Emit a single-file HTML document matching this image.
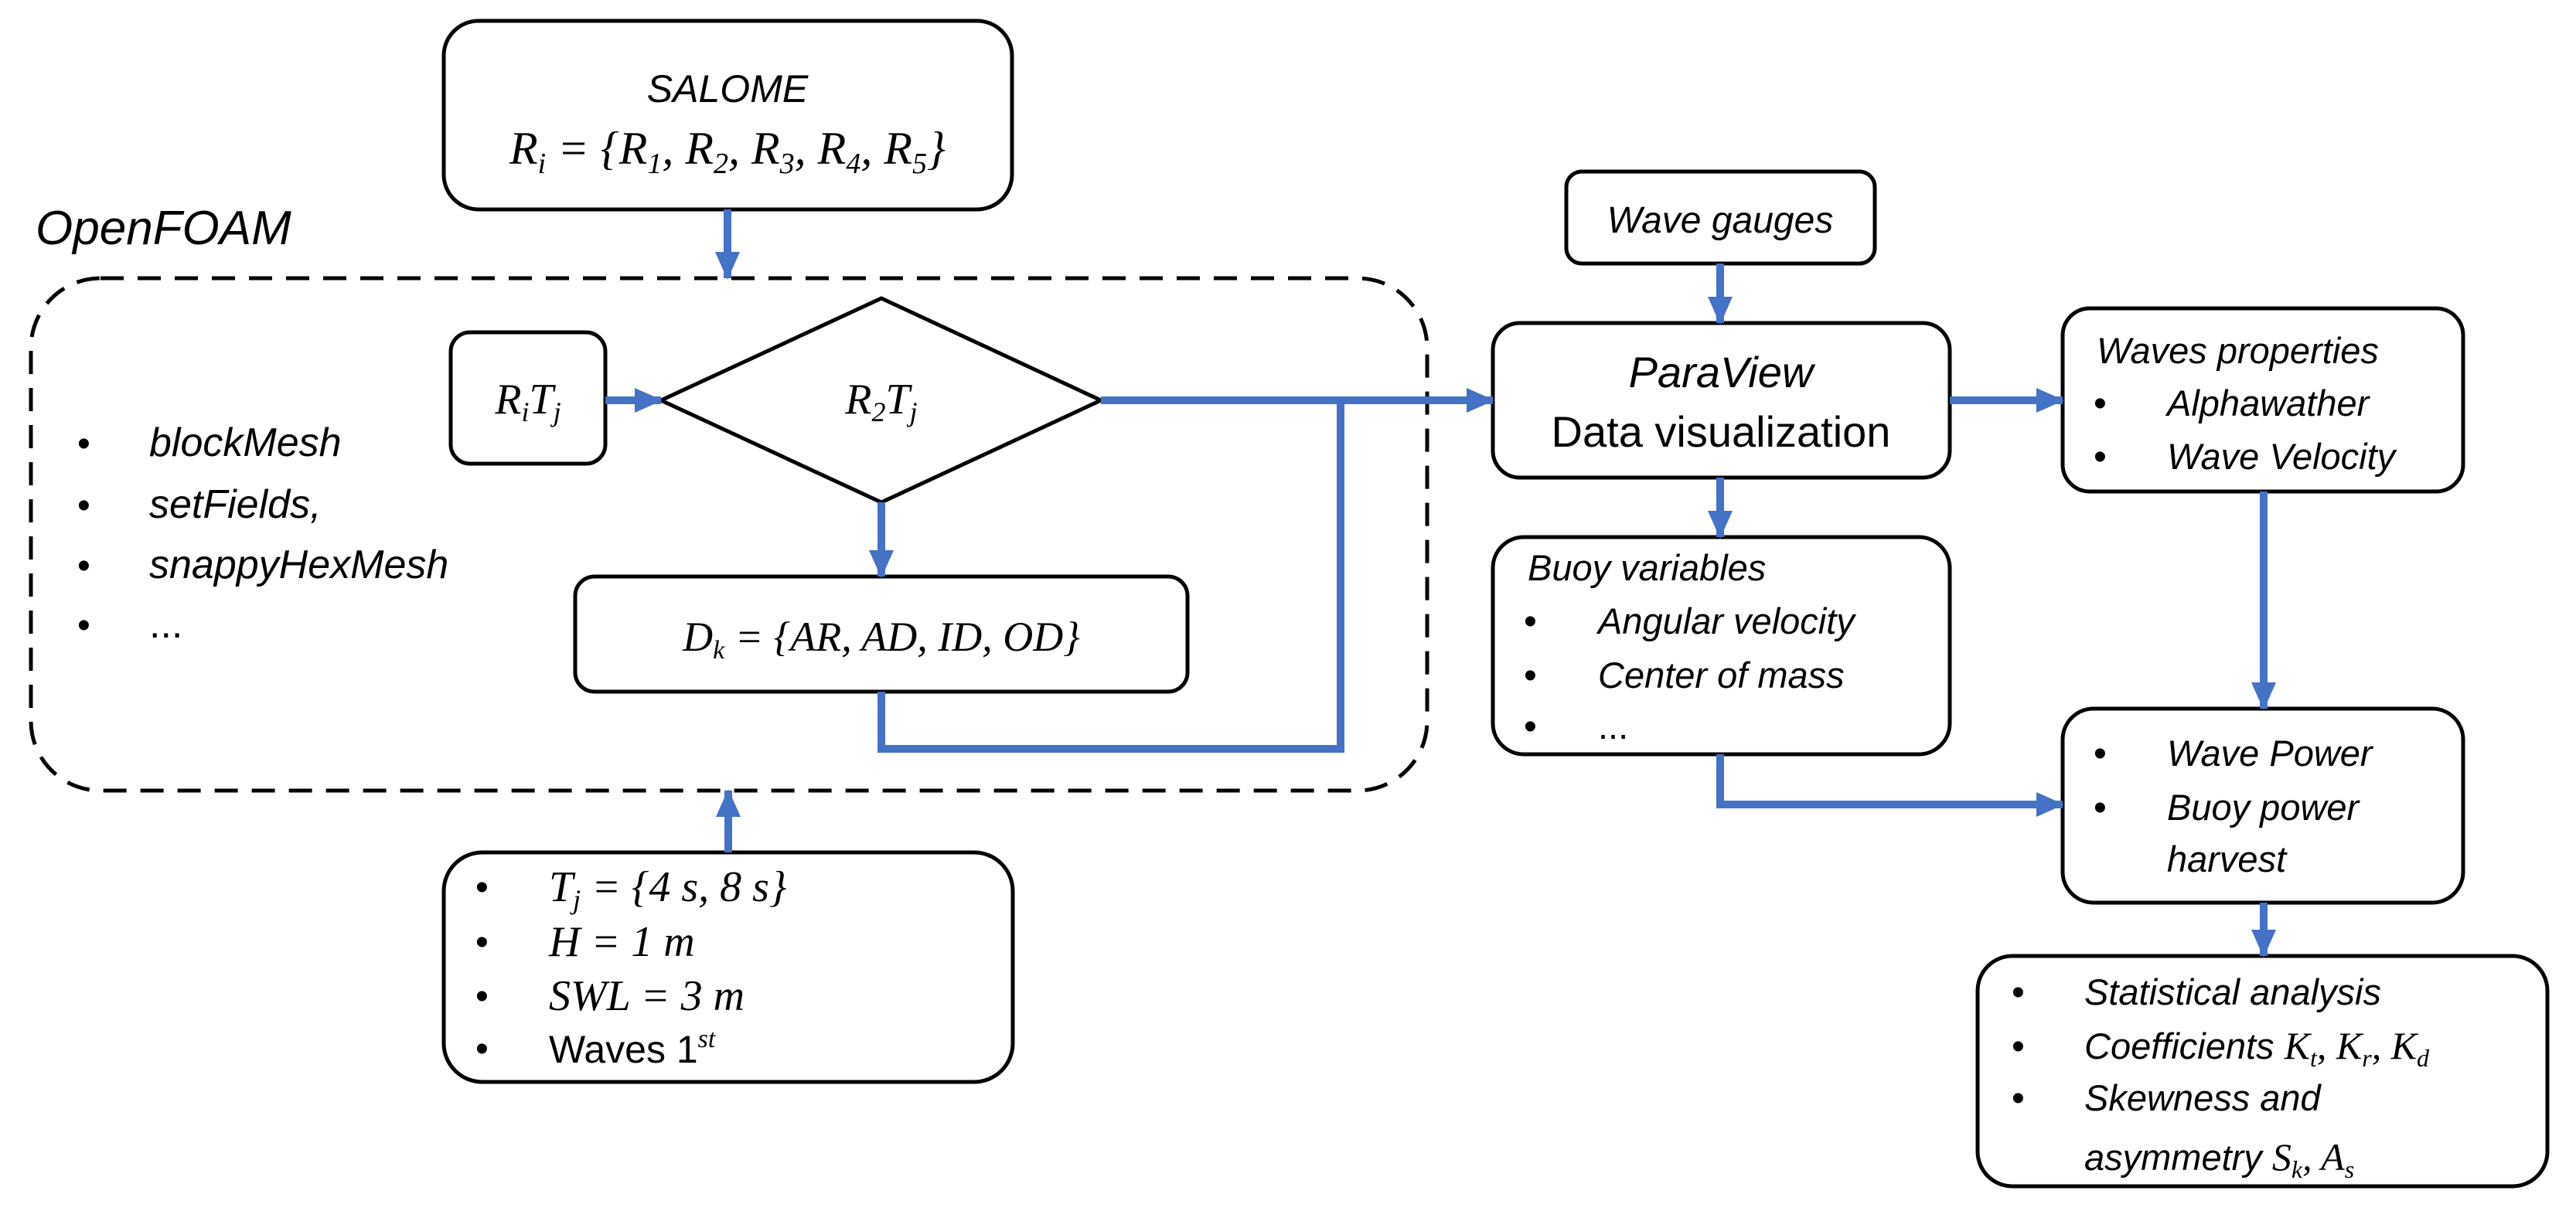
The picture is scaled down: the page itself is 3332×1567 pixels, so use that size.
<!DOCTYPE html>
<html><head><meta charset="utf-8"><style>
html,body{margin:0;padding:0;background:#fff}
svg{display:block}
text{font-family:"Liberation Sans",sans-serif;fill:#000}
.i{font-style:italic}
.m{font-family:"Liberation Serif",serif;font-style:italic}
</style></head><body>
<svg width="3332" height="1567" viewBox="0 0 3332 1567" xmlns="http://www.w3.org/2000/svg">
<defs>
<marker id="a" markerWidth="36" markerHeight="36" refX="34" refY="18" orient="auto" markerUnits="userSpaceOnUse">
<path d="M0,2 L36,18 L0,34 z" fill="#4472C4"/>
</marker>
</defs>
<g fill="none" stroke="#000" stroke-width="5">
<rect x="574" y="27" width="735" height="244" rx="45"/>
<rect x="40" y="360" width="1806" height="663" rx="90" stroke-dasharray="30,18"/>
<rect x="583" y="430" width="200" height="170" rx="25"/>
<polygon points="855,518 1140,386 1424,518 1140,650"/>
<rect x="744" y="746" width="792" height="149" rx="25"/>
<rect x="574" y="1103" width="736" height="297" rx="50"/>
<rect x="2026" y="222" width="399" height="119" rx="20"/>
<rect x="1931" y="418" width="591" height="200" rx="35"/>
<rect x="2668" y="399" width="518" height="237" rx="35"/>
<rect x="1931" y="695" width="591" height="281" rx="40"/>
<rect x="2668" y="917" width="518" height="251" rx="40"/>
<rect x="2558" y="1237" width="737" height="298" rx="45"/>
</g>
<g fill="none" stroke="#4472C4" stroke-width="10">
<line x1="941" y1="271" x2="941" y2="360" marker-end="url(#a)"/>
<line x1="783" y1="518" x2="855" y2="518" marker-end="url(#a)"/>
<line x1="1140" y1="650" x2="1140" y2="746" marker-end="url(#a)"/>
<polyline points="1140,895 1140,969 1734,969 1734,518"/>
<line x1="1424" y1="518" x2="1931" y2="518" marker-end="url(#a)"/>
<line x1="942" y1="1103" x2="942" y2="1023" marker-end="url(#a)"/>
<line x1="2225" y1="341" x2="2225" y2="418" marker-end="url(#a)"/>
<line x1="2522" y1="518" x2="2668" y2="518" marker-end="url(#a)"/>
<line x1="2225" y1="618" x2="2225" y2="695" marker-end="url(#a)"/>
<line x1="2928" y1="636" x2="2928" y2="917" marker-end="url(#a)"/>
<polyline points="2225,976 2225,1041 2668,1041" marker-end="url(#a)"/>
<line x1="2928" y1="1168" x2="2928" y2="1237" marker-end="url(#a)"/>
</g>
<g font-size="48">
<text x="941" y="132" text-anchor="middle" class="i" font-size="50">SALOME</text>
<text x="941" y="212" text-anchor="middle" class="m" font-size="60">R<tspan font-size="38" dy="12">i</tspan><tspan dy="-12"> = {R</tspan><tspan font-size="38" dy="12">1</tspan><tspan dy="-12">, R</tspan><tspan font-size="38" dy="12">2</tspan><tspan dy="-12">, R</tspan><tspan font-size="38" dy="12">3</tspan><tspan dy="-12">, R</tspan><tspan font-size="38" dy="12">4</tspan><tspan dy="-12">, R</tspan><tspan font-size="38" dy="12">5</tspan><tspan dy="-12">}</tspan></text>
<text x="46" y="316" class="i" font-size="62">OpenFOAM</text>
<text x="683" y="535" text-anchor="middle" class="m" font-size="56">R<tspan font-size="36" dy="10">i</tspan><tspan dy="-10">T</tspan><tspan font-size="36" dy="10">j</tspan></text>
<text x="1140" y="535" text-anchor="middle" class="m" font-size="56">R<tspan font-size="36" dy="10">2</tspan><tspan dy="-10">T</tspan><tspan font-size="36" dy="10">j</tspan></text>
<text x="1140" y="842" text-anchor="middle" class="m" font-size="54">D<tspan font-size="34" dy="10">k</tspan><tspan dy="-10"> = {AR, AD, ID, OD}</tspan></text>
<text x="100" y="590">•</text><text x="193" y="590" class="i" font-size="52">blockMesh</text>
<text x="100" y="670">•</text><text x="193" y="670" class="i" font-size="52">setFields,</text>
<text x="100" y="748">•</text><text x="193" y="748" class="i" font-size="52">snappyHexMesh</text>
<text x="100" y="825">•</text><text x="193" y="825" font-size="52">...</text>
<text x="615" y="1164">•</text><text x="710" y="1166" class="m" font-size="56">T<tspan font-size="36" dy="10">j</tspan><tspan dy="-10"> = {4 s, 8 s}</tspan></text>
<text x="615" y="1235">•</text><text x="710" y="1237" class="m" font-size="56">H = 1 m</text>
<text x="615" y="1305">•</text><text x="710" y="1307" class="m" font-size="56">SWL = 3 m</text>
<text x="615" y="1373">•</text><text x="710" y="1375" font-size="50">Waves 1<tspan font-size="34" dy="-20" class="m">st</tspan></text>
<text x="2225" y="301" text-anchor="middle" class="i" font-size="48">Wave gauges</text>
<text x="2226" y="501" text-anchor="middle" class="i" font-size="56">ParaView</text>
<text x="2226" y="578" text-anchor="middle" font-size="56">Data visualization</text>
<text x="2712" y="470" class="i" font-size="47">Waves properties</text>
<text x="2708" y="538">•</text><text x="2803" y="538" class="i" font-size="47">Alphawather</text>
<text x="2708" y="607">•</text><text x="2803" y="607" class="i" font-size="47">Wave Velocity</text>
<text x="1976" y="751" class="i" font-size="47">Buoy variables</text>
<text x="1971" y="820">•</text><text x="2067" y="820" class="i" font-size="47">Angular velocity</text>
<text x="1971" y="890">•</text><text x="2067" y="890" class="i" font-size="47">Center of mass</text>
<text x="1971" y="956">•</text><text x="2067" y="956" font-size="47">...</text>
<text x="2708" y="991">•</text><text x="2803" y="991" class="i" font-size="47">Wave Power</text>
<text x="2708" y="1061">•</text><text x="2803" y="1061" class="i" font-size="47">Buoy power</text>
<text x="2803" y="1128" class="i" font-size="47">harvest</text>
<text x="2602" y="1300">•</text><text x="2696" y="1300" class="i" font-size="47">Statistical analysis</text>
<text x="2602" y="1370">•</text><text x="2696" y="1370" class="i" font-size="47">Coefficients <tspan class="m" font-size="50">K</tspan><tspan class="m" font-size="32" dy="10">t</tspan><tspan class="m" font-size="50" dy="-10">, K</tspan><tspan class="m" font-size="32" dy="10">r</tspan><tspan class="m" font-size="50" dy="-10">, K</tspan><tspan class="m" font-size="32" dy="10">d</tspan></text>
<text x="2602" y="1437">•</text><text x="2696" y="1437" class="i" font-size="47">Skewness and</text>
<text x="2696" y="1514" class="i" font-size="47">asymmetry <tspan class="m" font-size="50">S</tspan><tspan class="m" font-size="32" dy="10">k</tspan><tspan class="m" font-size="50" dy="-10">, A</tspan><tspan class="m" font-size="32" dy="10">s</tspan></text>
</g>
</svg>
</body></html>
